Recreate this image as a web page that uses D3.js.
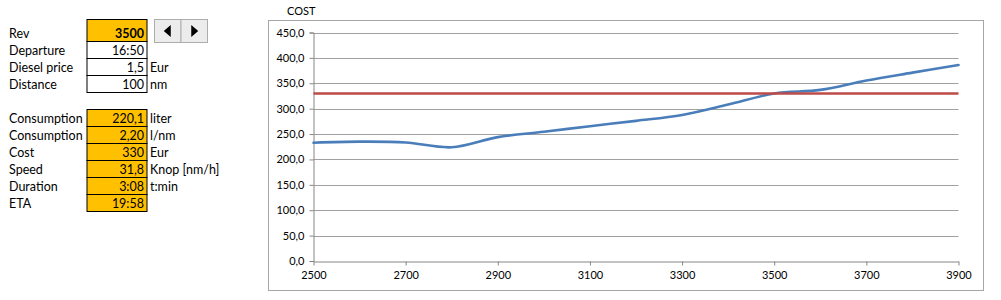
<!DOCTYPE html>
<html>
<head>
<meta charset="utf-8">
<script src="https://cdn.jsdelivr.net/npm/d3@7"></script>
<style>
  body { margin: 0; background: #fff; }
  svg { display: block; }
  text { font-family: Lato, "Noto Sans", sans-serif; fill: #000; }
</style>
</head>
<body>
<svg id="sheet" width="1001" height="300"></svg>
<script>
// ---- input block (top left)
var inputLabels = ["Rev", "Departure", "Diesel price", "Distance"];
var inputValues = ["3500", "16:50", "1,5", "100"];
var inputUnits  = ["", "", "Eur", "nm"];

// ---- result block
var resultLabels = ["Consumption", "Consumption", "Cost", "Speed", "Duration", "ETA"];
var resultValues = ["220,1", "2,20", "330", "31,8", "3:08", "19:58"];
var resultUnits  = ["liter", "l/nm", "Eur", "Knop [nm/h]", "t:min", ""];

// ---- chart data
var chartTitle = "COST";
var revs  = [2500, 2600, 2700, 2800, 2900, 3000, 3100, 3200, 3300, 3400, 3500, 3600, 3700, 3800, 3900];
var costs = [233, 235, 233.5, 224, 244, 254.5, 265.5, 276, 287.5, 308, 330, 337, 355.5, 371, 386];
var tripCost = [330, 330, 330, 330, 330, 330, 330, 330, 330, 330, 330, 330, 330, 330, 330];
var xTicks = [2500, 2700, 2900, 3100, 3300, 3500, 3700, 3900];
var yTicks = [0, 50, 100, 150, 200, 250, 300, 350, 400, 450];

var svg = d3.select("#sheet");
var orange = "#ffc000";

// ---------- left panel
var panel = svg.append("g");
var cellX = 87, cellW = 60;

function drawRows(labels, values, units, tops, fills, bold) {
  var rows = panel.append("g").selectAll("g")
    .data(labels.map(function(l, i){ return {label:l, value:values[i], unit:units[i], top:tops[i], bot:tops[i+1], fill:fills[i], bold:bold[i]}; }))
    .enter().append("g");
  rows.append("rect")
    .attr("x", cellX).attr("y", function(d){ return d.top; })
    .attr("width", cellW).attr("height", function(d){ return d.bot - d.top; })
    .attr("fill", function(d){ return d.fill; })
    .attr("stroke", "#000").attr("stroke-width", 1);
  rows.append("text")
    .attr("x", 9).attr("y", function(d){ return d.bot - 4; })
    .style("font-size", "12.5px").text(function(d){ return d.label; });
  rows.append("text")
    .attr("x", cellX + cellW - 3).attr("y", function(d){ return d.bot - 4; })
    .attr("text-anchor", "end")
    .style("font-size", "12.5px")
    .style("font-weight", function(d){ return d.bold ? "bold" : "normal"; })
    .text(function(d){ return d.value; });
  rows.append("text")
    .attr("x", cellX + cellW + 3).attr("y", function(d){ return d.bot - 4; })
    .style("font-size", "12.5px").text(function(d){ return d.unit; });
}

drawRows(inputLabels, inputValues, inputUnits,
  [19.5, 41.5, 58.5, 75.5, 92.5],
  [orange, "#fff", "#fff", "#fff"], [true, false, false, false]);
drawRows(resultLabels, resultValues, resultUnits,
  [109.5, 126.5, 143.5, 160.5, 177.5, 194.5, 211.5],
  resultLabels.map(function(){ return orange; }), resultLabels.map(function(){ return false; }));

// spinner buttons
var spin = panel.append("g");
[[154.5, "left"], [181, "right"]].forEach(function(b){
  spin.append("rect").attr("x", b[0]).attr("y", 19.5).attr("width", 26.5).attr("height", 23)
    .attr("fill", "#ececec").attr("stroke", "#adadad");
  var cx = b[0] + 13.25, cy = 31;
  var p = b[1] === "left"
    ? [[cx + 3, cy - 6], [cx + 3, cy + 6], [cx - 4, cy]]
    : [[cx - 3, cy - 6], [cx - 3, cy + 6], [cx + 4, cy]];
  spin.append("path").attr("d", d3.line()(p) + "Z").attr("fill", "#000");
});

// ---------- chart
var frame = {x: 268.5, y: 20.5, w: 715, h: 270};
svg.append("rect").attr("x", frame.x).attr("y", frame.y).attr("width", frame.w).attr("height", frame.h)
  .attr("fill", "#fff").attr("stroke", "#a6a6a6");

svg.append("text").attr("x", 287).attr("y", 15).style("font-size", "11px").text(chartTitle);

var plot = {left: 313.5, right: 958.5, top: 32.5, bottom: 261};
var x = d3.scaleLinear().domain([2500, 3900]).range([plot.left, plot.right]);
var y = d3.scaleLinear().domain([0, 450]).range([plot.bottom, plot.top]);
var locale = d3.formatLocale({decimal: ",", thousands: ".", grouping: [3], currency: ["", ""]});
var fmt = locale.format(".1f");

var g = svg.append("g");

// gridlines
g.append("g").selectAll("line").data(yTicks.filter(function(t){ return t > 0; })).enter().append("line")
  .attr("x1", plot.left).attr("x2", plot.right)
  .attr("y1", function(d){ return Math.round(y(d)) + 0.5; })
  .attr("y2", function(d){ return Math.round(y(d)) + 0.5; })
  .attr("stroke", "#a0a0a0").attr("stroke-width", 1);

// y axis
var yAxis = g.append("g").attr("transform", "translate(" + plot.left + ",0)")
  .call(d3.axisLeft(y).tickValues(yTicks).tickFormat(fmt).tickSize(4).tickPadding(5));
yAxis.select(".domain").attr("stroke", "#868686");
yAxis.selectAll(".tick line").attr("stroke", "#868686");
yAxis.selectAll("text").style("font-family", "Lato, sans-serif").style("font-size", "11px").attr("fill", "#000");

// x axis
var xAxis = g.append("g").attr("transform", "translate(0," + (Math.round(plot.bottom) + 0.5) + ")")
  .call(d3.axisBottom(x).tickValues(xTicks).tickFormat(d3.format("d")).tickSize(4).tickSizeOuter(0).tickPadding(6));
xAxis.select(".domain").attr("stroke", "#868686");
xAxis.selectAll(".tick line").attr("stroke", "#868686");
xAxis.selectAll("text").style("font-family", "Lato, sans-serif").style("font-size", "11px").attr("fill", "#000");

// series
var line = d3.line()
  .x(function(d, i){ return x(revs[i]); })
  .y(function(d){ return y(d); })
  .curve(d3.curveCardinal.tension(0));

g.append("path").datum(costs).attr("d", line)
  .attr("fill", "none").attr("stroke", "#4a7ebb").attr("stroke-width", 2.6).attr("stroke-linecap", "round");
g.append("path").datum(tripCost).attr("d", line)
  .attr("fill", "none").attr("stroke", "#be4b48").attr("stroke-width", 2.6);
</script>
</body>
</html>
